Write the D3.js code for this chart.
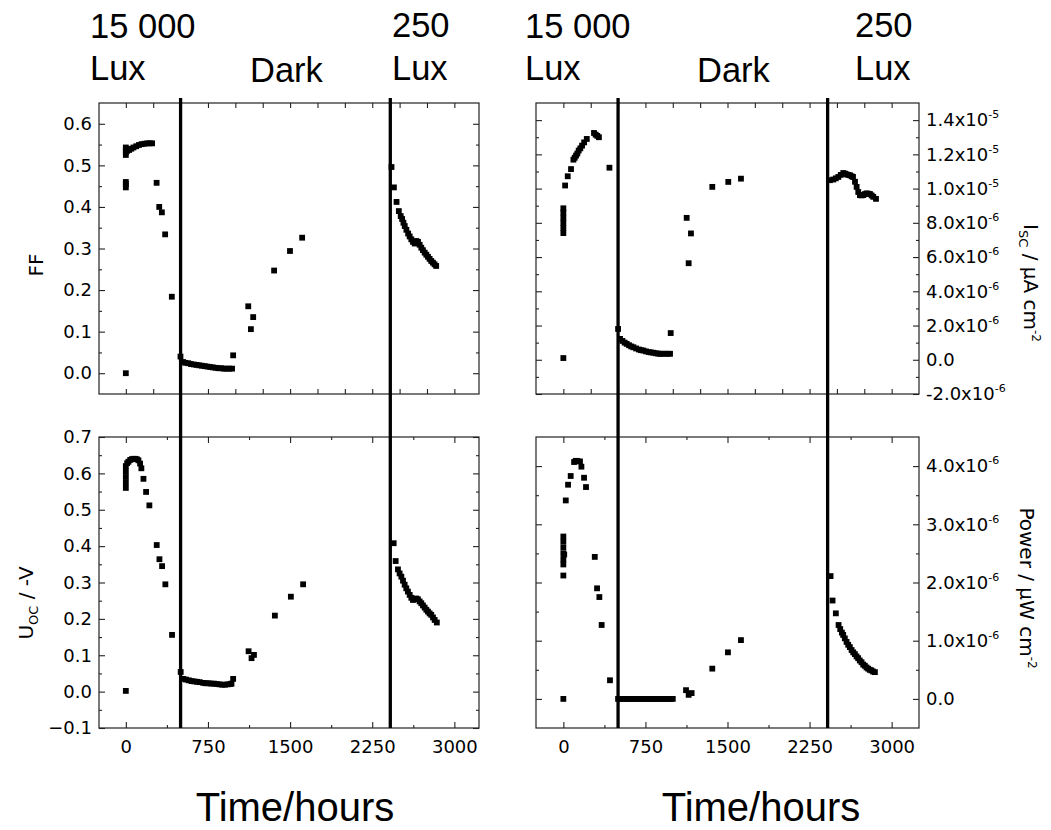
<!DOCTYPE html>
<html>
<head>
<meta charset="utf-8">
<script src="https://cdn.jsdelivr.net/npm/d3@7"></script>
<style>
  body { margin: 0; background: #fff; }
  svg { display: block; }
</style>
</head>
<body>
<svg id="chart" width="1051" height="830"></svg>
<script>
// ---- data ----
const lightChanges = [500, 2415];
const phaseLabels = [
  { lines: ["15 000", "Lux"], at: "start" },
  { lines: ["Dark"], at: "dark" },
  { lines: ["250", "Lux"], at: "end" }
];

const ffHours = [0, 0, 0, 0, 0, 0, 0, 0, 12, 30, 50, 70, 95, 120, 145, 170, 195, 220, 240,
  281, 305, 329, 359, 420,
  499, 522, 545, 570, 595, 620, 645, 670, 695, 720, 745, 770, 795, 820, 845, 870, 895, 920, 945, 970, 980,
  1118, 1142, 1163, 1354, 1499, 1610,
  2426, 2448, 2472, 2493, 2510, 2523, 2535, 2547, 2562, 2578, 2592, 2607, 2622, 2638, 2653, 2668,
  2683, 2698, 2713, 2729, 2744, 2759, 2774, 2789, 2804, 2819, 2834];
const ffValues = [0.0, 0.447, 0.455, 0.46, 0.525, 0.532, 0.538, 0.543, 0.535, 0.537, 0.540, 0.543, 0.546, 0.549, 0.551, 0.552, 0.553, 0.553, 0.553,
  0.458, 0.400, 0.387, 0.334, 0.184,
  0.040, 0.027, 0.025, 0.024, 0.022, 0.021, 0.020, 0.019, 0.018, 0.017, 0.016, 0.015, 0.014, 0.013, 0.012, 0.012, 0.011, 0.011, 0.011, 0.011, 0.043,
  0.161, 0.106, 0.135, 0.247, 0.294, 0.326,
  0.496, 0.447, 0.412, 0.390, 0.378, 0.371, 0.362, 0.354, 0.345, 0.336, 0.329, 0.322, 0.316, 0.312, 0.318, 0.316,
  0.309, 0.302, 0.296, 0.290, 0.285, 0.280, 0.275, 0.270, 0.266, 0.262, 0.258];

const iscHours = [0, 0, 0, 0, 0, 0, 0, 16, 40, 70, 92, 104, 116, 128, 140, 155, 171, 190, 214, 280, 295, 310, 325, 421,
  500, 518, 540, 560, 579, 600, 620, 640, 665, 690, 710, 731, 755, 780, 800, 822, 845, 865, 883, 905, 930, 955, 975, 981,
  1127, 1145, 1166, 1361, 1507, 1623,
  2436, 2467, 2490, 2513, 2535, 2558, 2575, 2589, 2604, 2619, 2634, 2647, 2665, 2680, 2695, 2710, 2725, 2741,
  2756, 2771, 2787, 2802, 2817, 2832, 2857];
const iscValues = [0.1e-6, 7.4e-6, 7.7e-6, 8.0e-6, 8.3e-6, 8.6e-6, 8.85e-6, 10.18e-6, 10.72e-6, 11.14e-6, 11.69e-6, 11.8e-6, 11.93e-6, 12.05e-6, 12.22e-6, 12.35e-6, 12.51e-6, 12.7e-6, 12.9e-6, 13.25e-6, 13.15e-6, 13.08e-6, 13.0e-6, 11.22e-6,
  1.80e-6, 1.22e-6, 1.10e-6, 1.00e-6, 0.93e-6, 0.85e-6, 0.78e-6, 0.73e-6, 0.66e-6, 0.60e-6, 0.56e-6, 0.54e-6, 0.49e-6, 0.45e-6, 0.43e-6, 0.41e-6, 0.38e-6, 0.36e-6, 0.35e-6, 0.35e-6, 0.35e-6, 0.35e-6, 0.35e-6, 1.56e-6,
  8.29e-6, 5.64e-6, 7.38e-6, 10.10e-6, 10.39e-6, 10.58e-6,
  10.49e-6, 10.53e-6, 10.60e-6, 10.68e-6, 10.80e-6, 10.91e-6, 10.87e-6, 10.83e-6, 10.80e-6, 10.78e-6, 10.72e-6, 10.68e-6, 10.40e-6, 10.10e-6, 9.80e-6, 9.62e-6, 9.60e-6, 9.62e-6,
  9.68e-6, 9.72e-6, 9.70e-6, 9.68e-6, 9.60e-6, 9.52e-6, 9.40e-6];

const uocHours = [0, 0, 0, 0, 0, 0, 12, 24, 40, 55, 70, 85, 100, 115, 130, 142, 161, 185, 215, 282, 307, 331, 361, 422,
  501, 525, 550, 575, 600, 625, 650, 675, 707, 730, 755, 780, 805, 830, 855, 880, 905, 930, 955, 965, 980,
  1121, 1148, 1170, 1361, 1507, 1619,
  2446, 2464, 2485, 2500, 2516, 2531, 2546, 2561, 2576, 2592, 2607, 2622, 2637, 2652, 2667, 2683, 2698,
  2713, 2729, 2744, 2759, 2774, 2789, 2805, 2820, 2840];
const uocValues = [0.002, 0.56, 0.575, 0.59, 0.605, 0.62, 0.628, 0.632, 0.637, 0.639, 0.640, 0.640, 0.639, 0.636, 0.627, 0.614, 0.585, 0.549, 0.512, 0.403, 0.364, 0.345, 0.295, 0.156,
  0.054, 0.035, 0.033, 0.031, 0.029, 0.028, 0.027, 0.026, 0.024, 0.023, 0.023, 0.022, 0.022, 0.021, 0.020, 0.019, 0.019, 0.020, 0.021, 0.022, 0.035,
  0.111, 0.092, 0.101, 0.209, 0.261, 0.295,
  0.408, 0.359, 0.336, 0.325, 0.316, 0.305, 0.294, 0.284, 0.275, 0.266, 0.258, 0.252, 0.254, 0.256, 0.254, 0.248, 0.243,
  0.237, 0.231, 0.225, 0.220, 0.215, 0.211, 0.204, 0.197, 0.190];

const powerHours = [0, 0, 0, 0, 0, 0, 0, 0, 8, 22, 43, 67, 98, 113, 128, 152, 165, 189, 207, 287, 308, 329, 350, 426,
  500, 520, 540, 560, 580, 600, 620, 640, 660, 680, 700, 720, 740, 760, 780, 800, 820, 840, 860, 880, 900, 920, 940, 960, 980, 1000,
  1121, 1145, 1172, 1361, 1504, 1623,
  2442, 2460, 2490, 2515, 2530, 2545, 2557, 2572, 2588, 2603, 2618, 2634, 2649, 2664, 2679, 2694, 2709,
  2725, 2740, 2755, 2770, 2785, 2800, 2815, 2830, 2847];
const powerValues = [0.0, 2.12e-6, 2.31e-6, 2.40e-6, 2.50e-6, 2.60e-6, 2.70e-6, 2.79e-6, 2.48e-6, 3.41e-6, 3.68e-6, 3.83e-6, 4.07e-6, 4.09e-6, 4.09e-6, 4.08e-6, 3.99e-6, 3.80e-6, 3.64e-6, 2.44e-6, 1.90e-6, 1.75e-6, 1.27e-6, 0.32e-6,
  0.0, 0.0, 0.0, 0.0, 0.0, 0.0, 0.0, 0.0, 0.0, 0.0, 0.0, 0.0, 0.0, 0.0, 0.0, 0.0, 0.0, 0.0, 0.0, 0.0, 0.0, 0.0, 0.0, 0.0, 0.0, 0.0,
  0.15e-6, 0.07e-6, 0.10e-6, 0.52e-6, 0.80e-6, 1.01e-6,
  2.11e-6, 1.69e-6, 1.47e-6, 1.27e-6, 1.20e-6, 1.14e-6, 1.10e-6, 1.04e-6, 0.98e-6, 0.93e-6, 0.89e-6, 0.84e-6, 0.80e-6, 0.77e-6, 0.73e-6, 0.70e-6, 0.66e-6,
  0.63e-6, 0.59e-6, 0.57e-6, 0.54e-6, 0.52e-6, 0.50e-6, 0.49e-6, 0.47e-6, 0.46e-6];

// tick values
const topXTicks = [0, 250, 500, 750, 1000, 1250, 1500, 1750, 2000, 2250, 2500, 2750, 3000];
const bottomXTicks = [0, 750, 1500, 2250, 3000];
const bottomXMinor = [375, 1125, 1875, 2625];
const ffTicks = [0, 0.1, 0.2, 0.3, 0.4, 0.5, 0.6];
const ffMinor = [0.05, 0.15, 0.25, 0.35, 0.45, 0.55];
const uocTicks = [-0.1, 0, 0.1, 0.2, 0.3, 0.4, 0.5, 0.6, 0.7];
const uocMinor = [-0.05, 0.05, 0.15, 0.25, 0.35, 0.45, 0.55, 0.65];
const iscTicks = [-2e-6, 0, 2e-6, 4e-6, 6e-6, 8e-6, 1e-5, 1.2e-5, 1.4e-5];
const iscMinor = [-1e-6, 1e-6, 3e-6, 5e-6, 7e-6, 9e-6, 1.1e-5, 1.3e-5];
const powerTicks = [0, 1e-6, 2e-6, 3e-6, 4e-6];
const powerMinor = [0.5e-6, 1.5e-6, 2.5e-6, 3.5e-6];

// ---- layout ----
const svg = d3.select("#chart");
const tickFont = "DejaVu Sans, Verdana, sans-serif";
const bigFont = "Liberation Sans, Arial, sans-serif";

const columns = [
  { x0: 99, x1: 479, domain: [-245, 3225], side: "left" },
  { x0: 536, x1: 919, domain: [-250, 3250], side: "right" }
];
const rows = [
  { y0: 103, y1: 394, bottom: false },
  { y0: 437, y1: 728, bottom: true }
];

const panels = [
  { col: 0, row: 0, hours: ffHours, values: ffValues, domain: [-0.05, 0.65], ticks: ffTicks, minor: ffMinor, sci: false },
  { col: 1, row: 0, hours: iscHours, values: iscValues, domain: [-2e-6, 1.5e-5], ticks: iscTicks, minor: iscMinor, sci: true },
  { col: 0, row: 1, hours: uocHours, values: uocValues, domain: [-0.1, 0.7], ticks: uocTicks, minor: uocMinor, sci: false },
  { col: 1, row: 1, hours: powerHours, values: powerValues, domain: [-0.5e-6, 4.5e-6], ticks: powerTicks, minor: powerMinor, sci: true }
];

function sciLabel(sel) {
  sel.each(function(d) {
    const t = d3.select(this);
    t.text(null);
    if (d === 0) { t.text("0.0"); return; }
    const e = Math.floor(Math.log10(Math.abs(d)) + 1e-9);
    const m = d / Math.pow(10, e);
    t.append("tspan").text(m.toFixed(1) + "x10");
    t.append("tspan").attr("dy", "-8").attr("font-size", "11px").text(e);
  });
}

function styleAxis(g) {
  g.select(".domain").remove();
  g.selectAll(".tick line").attr("stroke", "#222").attr("stroke-width", 1.1);
  g.selectAll(".tick text").attr("fill", "#000").attr("font-family", tickFont).attr("font-size", "18px");
}

panels.forEach(p => {
  const c = columns[p.col], r = rows[p.row];
  const x = d3.scaleLinear().domain(c.domain).range([c.x0, c.x1]);
  const y = d3.scaleLinear().domain(p.domain).range([r.y1, r.y0]);
  p.x = x;

  // x ticks, inward, on bottom and top
  const xMajor = r.bottom ? bottomXTicks : topXTicks;
  const xLen = r.bottom ? 6 : 5;
  svg.append("g").attr("transform", `translate(0,${r.y1})`)
    .call(d3.axisBottom(x).tickValues(xMajor).tickSizeInner(-xLen).tickSizeOuter(0).tickPadding(12)
      .tickFormat(r.bottom ? d3.format("d") : ""))
    .call(styleAxis);
  svg.append("g").attr("transform", `translate(0,${r.y0})`)
    .call(d3.axisTop(x).tickValues(xMajor).tickSizeInner(-xLen).tickSizeOuter(0).tickFormat(""))
    .call(styleAxis);
  if (r.bottom) {
    svg.append("g").attr("transform", `translate(0,${r.y1})`)
      .call(d3.axisBottom(x).tickValues(bottomXMinor).tickSize(-3).tickFormat(""))
      .call(styleAxis);
    svg.append("g").attr("transform", `translate(0,${r.y0})`)
      .call(d3.axisTop(x).tickValues(bottomXMinor).tickSize(-3).tickFormat(""))
      .call(styleAxis);
  }

  // y ticks on both sides, labels on the outer side only
  const labelled = c.side === "left" ? d3.axisLeft(y) : d3.axisRight(y);
  const yl = svg.append("g").attr("transform", `translate(${c.side === "left" ? c.x0 : c.x1},0)`)
    .call(labelled.tickValues(p.ticks).tickSizeInner(-6).tickSizeOuter(0).tickPadding(7)
      .tickFormat(p.sci ? null : d3.format(".1f")))
    .call(styleAxis);
  if (p.sci) yl.selectAll(".tick text").call(sciLabel);

  const plain = c.side === "left" ? d3.axisRight(y) : d3.axisLeft(y);
  svg.append("g").attr("transform", `translate(${c.side === "left" ? c.x1 : c.x0},0)`)
    .call(plain.tickValues(p.ticks).tickSizeInner(-6).tickSizeOuter(0).tickFormat(""))
    .call(styleAxis);
  [c.x0, c.x1].forEach((xx, i) => {
    const ax = i === 0 ? d3.axisLeft(y) : d3.axisRight(y);
    svg.append("g").attr("transform", `translate(${xx},0)`)
      .call(ax.tickValues(p.minor).tickSize(-3).tickFormat(""))
      .call(styleAxis);
  });

  // frame
  svg.append("rect")
    .attr("x", c.x0).attr("y", r.y0)
    .attr("width", c.x1 - c.x0).attr("height", r.y1 - r.y0)
    .attr("fill", "none").attr("stroke", "#222").attr("stroke-width", 1.2);

  // points
  svg.append("g").selectAll("rect")
    .data(p.hours.map((h, i) => [h, p.values[i]]))
    .join("rect")
    .attr("x", d => x(d[0]) - 2.9)
    .attr("y", d => y(d[1]) - 2.9)
    .attr("width", 5.8).attr("height", 5.8)
    .attr("fill", "#000");
});

// light-change lines through both rows
columns.forEach((c, ci) => {
  const x = panels.find(p => p.col === ci).x;
  svg.append("g").selectAll("line")
    .data(lightChanges)
    .join("line")
    .attr("x1", d => x(d)).attr("x2", d => x(d))
    .attr("y1", 98).attr("y2", rows[1].y1)
    .attr("stroke", "#000").attr("stroke-width", 3.3);
});

// phase labels above each column
const phaseX = [
  { start: 90, dark: 250, end: 392 },
  { start: 525, dark: 697, end: 855 }
];
phaseX.forEach(px => {
  phaseLabels.forEach(l => {
    const t = svg.append("text")
      .attr("font-family", bigFont).attr("font-size", "34.5px").attr("fill", "#000");
    if (l.lines.length === 2) {
      t.append("tspan").attr("x", px[l.at]).attr("y", l.at === "end" ? 36.5 : 38).text(l.lines[0]);
      t.append("tspan").attr("x", px[l.at]).attr("y", 80).text(l.lines[1]);
    } else {
      t.attr("x", px[l.at]).attr("y", 81.5).text(l.lines[0]);
    }
  });
});

// x titles
[295, 761].forEach(cx => {
  svg.append("text")
    .attr("x", cx).attr("y", 821)
    .attr("text-anchor", "middle")
    .attr("font-family", bigFont).attr("font-size", "40px")
    .text("Time/hours");
});

// y titles
function yTitle(x, y, angle, parts) {
  const t = svg.append("text")
    .attr("transform", `translate(${x},${y}) rotate(${angle})`)
    .attr("text-anchor", "middle")
    .attr("font-family", tickFont).attr("font-size", "20px");
  parts.forEach(pt => {
    const s = t.append("tspan").text(pt.text);
    if (pt.dy) s.attr("dy", pt.dy);
    if (pt.size) s.attr("font-size", pt.size);
  });
}
yTitle(43, 265, -90, [{ text: "FF" }]);
yTitle(33, 603, -90, [
  { text: "U" }, { text: "OC", dy: 5, size: "13px" }, { text: " / -V", dy: -5 }
]);
yTitle(1024, 283, 90, [
  { text: "I" }, { text: "SC", dy: 5, size: "13px" }, { text: " / µA cm", dy: -5 },
  { text: "-2", dy: -8, size: "12px" }
]);
yTitle(1020, 588, 90, [
  { text: "Power / µW cm" }, { text: "-2", dy: -8, size: "12px" }
]);
</script>
</body>
</html>
